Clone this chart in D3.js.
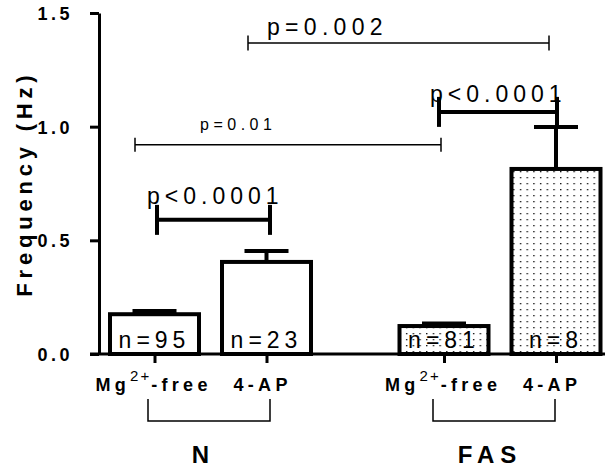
<!DOCTYPE html>
<html><head><meta charset="utf-8">
<script src="https://cdn.jsdelivr.net/npm/d3@7"></script>
<style>
body{margin:0;background:#fff}
text{font-family:"Liberation Sans",Arial,sans-serif;fill:#000}
</style>
</head><body>
<svg id="chart" width="605" height="469"></svg>
<script>
// ---- data ----
const groups = ["N", "FAS"];
const conditions = ["Mg", "4-AP"];
const meansN = [0.175, 0.405];
const meansFAS = [0.123, 0.814];
const semN = [0.014, 0.048];
const semFAS = [0.011, 0.185];
const countsN = [95, 23];
const countsFAS = [81, 8];
const yTicks = [0, 0.5, 1.0, 1.5];
const yTickLabels = ["0.0", "0.5", "1.0", "1.5"];
const yTitle = "Frequency (Hz)";
const comparisons = [
  {a: "N|Mg", b: "N|4-AP", level: 0.59, label: "p<0.0001", heavy: true},
  {a: "N|Mg", b: "FAS|Mg", level: 0.92, label: "p=0.01", heavy: false},
  {a: "N|4-AP", b: "FAS|4-AP", level: 1.368, label: "p=0.002", heavy: false},
  {a: "FAS|Mg", b: "FAS|4-AP", level: 1.065, label: "p<0.0001", heavy: true}
];

// ---- layout ----
const svg = d3.select("#chart");
const y = d3.scaleLinear().domain([0, 1.5]).range([354, 13]);
const xGroup = d3.scalePoint().domain(groups).range([210.5, 500]);
const xInner = d3.scalePoint().domain(conditions).range([-56, 56]);

const bars = [];
groups.forEach(g => {
  const m = g === "N" ? meansN : meansFAS;
  const s = g === "N" ? semN : semFAS;
  const c = g === "N" ? countsN : countsFAS;
  conditions.forEach((cond, i) => bars.push({g, cond, key: g + "|" + cond, mean: m[i], sem: s[i], n: c[i]}));
});
const xPos = k => { const [g, c] = k.split("|"); return xGroup(g) + xInner(c); };
const xCat = d3.scaleOrdinal().domain(bars.map(d => d.key)).range(bars.map(d => xPos(d.key)));

// pattern
const defs = svg.append("defs");
const pat = defs.append("pattern").attr("id", "dots").attr("patternUnits", "userSpaceOnUse")
  .attr("width", 6.7).attr("height", 6).attr("x", 2).attr("y", 1);
pat.append("rect").attr("width", 6.7).attr("height", 6).attr("fill", "#fff");
pat.append("rect").attr("x", 2).attr("y", 2).attr("width", 1.3).attr("height", 1.3).attr("fill", "#000");

// y axis
const yAxis = svg.append("g").attr("transform", "translate(99,0)")
  .call(d3.axisLeft(y).tickValues(yTicks).tickFormat((d, i) => yTickLabels[i]).tickSize(9).tickSizeOuter(0).tickPadding(17));
yAxis.select(".domain").attr("stroke", "#000").attr("stroke-width", 3);
yAxis.selectAll(".tick line").attr("stroke", "#000").attr("stroke-width", 3);
yAxis.selectAll(".tick text").attr("font-size", 18).attr("font-weight", "bold")
  .style("letter-spacing", "3.5px").attr("fill", "#000").attr("dy", "0.36em")
  .attr("font-family", "Liberation Sans, Arial, sans-serif");

svg.append("text").attr("transform", "translate(32,186) rotate(-90)")
  .attr("text-anchor", "middle").attr("font-size", 22).attr("font-weight", "bold")
  .style("letter-spacing", "4.8px").attr("dx", 2.4).text(yTitle);

// error bars
const eb = svg.append("g");
bars.forEach(d => {
  const cx = xPos(d.key);
  eb.append("line").attr("x1", cx).attr("x2", cx).attr("y1", y(d.mean)).attr("y2", y(d.mean + d.sem))
    .attr("stroke", "#000").attr("stroke-width", 4);
  eb.append("line").attr("x1", cx - 22).attr("x2", cx + 22).attr("y1", y(d.mean + d.sem)).attr("y2", y(d.mean + d.sem))
    .attr("stroke", "#000").attr("stroke-width", 4);
});

// bars
svg.append("g").selectAll("rect").data(bars).join("rect")
  .attr("x", d => xPos(d.key) - 44.5).attr("width", 89)
  .attr("y", d => y(d.mean)).attr("height", d => y(0) - y(d.mean))
  .attr("fill", d => d.g === "FAS" ? "url(#dots)" : "#fff")
  .attr("stroke", "#000").attr("stroke-width", 4);

// n labels
svg.append("g").selectAll("text").data(bars).join("text")
  .attr("x", d => xPos(d.key)).attr("y", 348).attr("text-anchor", "middle")
  .attr("font-size", 23).style("letter-spacing", "5px").text(d => "n=" + d.n);

// x axis
svg.append("line").attr("x1", 90).attr("x2", 605).attr("y1", y(0)).attr("y2", y(0))
  .attr("stroke", "#000").attr("stroke-width", 3);
const xAxis = svg.append("g").attr("transform", `translate(0,${y(0)})`)
  .call(d3.axisBottom(xCat).tickSize(9).tickSizeOuter(0).tickFormat(""));
xAxis.select(".domain").remove();
xAxis.selectAll(".tick line").attr("stroke", "#000").attr("stroke-width", 3);

// x labels
bars.forEach(d => {
  const cx = xPos(d.key);
  const t = svg.append("text").attr("y", 391).attr("font-size", 18).attr("font-weight", "bold")
    .style("letter-spacing", "4.3px");
  if (d.cond === "Mg") {
    t.attr("x", cx - 59);
    t.append("tspan").text("Mg");
    t.append("tspan").attr("dy", -10).attr("font-size", 15).attr("font-weight", "normal").style("letter-spacing", "2px").text("2+");
    t.append("tspan").attr("dy", 10).text("-free");
  } else {
    t.attr("x", cx - 33).text("4-AP");
  }
});

// group brackets
const groupBrackets = [
  {g: "N", left: "N|Mg", right: "N|4-AP", dl: -6.5, dr: 3.5, labelDx: -10},
  {g: "FAS", left: "FAS|Mg", right: "FAS|4-AP", dl: -11, dr: -1, labelDx: -13}
];
groupBrackets.forEach(b => {
  const x1 = xPos(b.left) + b.dl, x2 = xPos(b.right) + b.dr;
  svg.append("path").attr("d", `M${x1},399V421H${x2}V399`).attr("fill", "none")
    .attr("stroke", "#000").attr("stroke-width", 1.5);
  svg.append("text").attr("x", xGroup(b.g) + b.labelDx + 3).attr("y", 463).attr("text-anchor", "middle")
    .attr("font-size", 24).attr("font-weight", "bold").style("letter-spacing", "6px").text(b.g);
});

// significance brackets
const compStyle = [
  {dl: 2.5, dr: 3.5, half: 15, fs: 23, ls: 5, tx: -10, ty: -16},
  {dl: -19.5, dr: -3, half: 7, fs: 16, ls: 4.5, tx: 65, ty: -15},
  {dl: -18.5, dr: -7, half: 7.5, fs: 23, ls: 5.3, tx: 19, ty: -8},
  {dl: -5, dr: 1, half: 15, fs: 23, ls: 5, tx: -9, ty: -10}
];
comparisons.forEach((c, i) => {
  const st = compStyle[i];
  const x1 = xPos(c.a) + st.dl, x2 = xPos(c.b) + st.dr, yy = y(c.level);
  const w = c.heavy ? 4 : 1.5;
  const g = svg.append("g");
  g.append("line").attr("x1", x1).attr("x2", x2).attr("y1", yy).attr("y2", yy).attr("stroke", "#000").attr("stroke-width", w);
  [x1, x2].forEach(xx => g.append("line").attr("x1", xx).attr("x2", xx).attr("y1", yy - st.half).attr("y2", yy + st.half)
    .attr("stroke", "#000").attr("stroke-width", w));
  g.append("text").attr("x", x1 + st.tx).attr("y", yy + st.ty).attr("font-size", st.fs)
    .style("letter-spacing", st.ls + "px").text(c.label);
});
</script>
</body></html>
